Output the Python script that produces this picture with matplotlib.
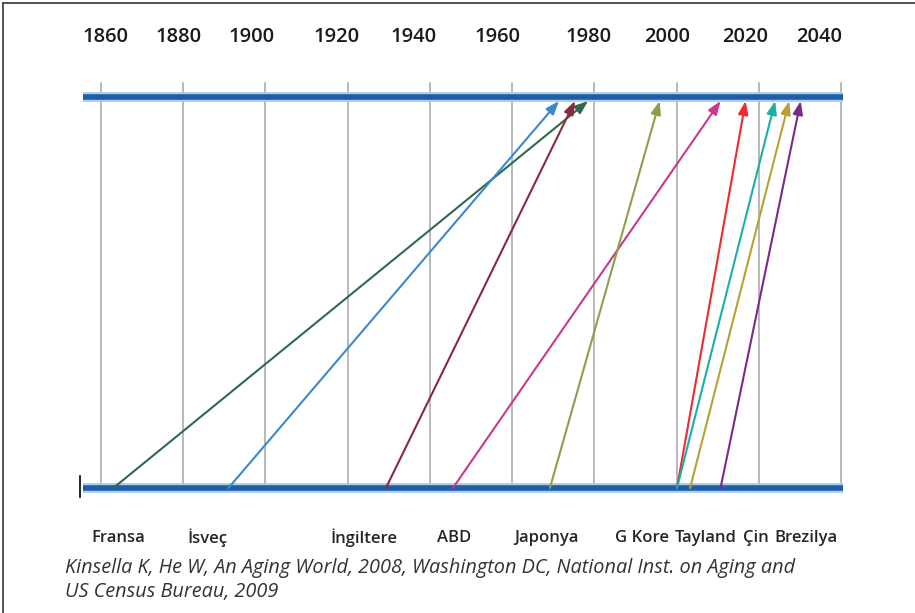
import numpy as np
import matplotlib
matplotlib.use("Agg")
import matplotlib.pyplot as plt
from matplotlib.patches import FancyArrowPatch
from matplotlib.lines import Line2D

# years when 7% -> 14% of population aged 65+
countries = ["Fransa", "İsveç", "İngiltere", "ABD", "Japonya",
             "G Kore", "Tayland", "Çin", "Brezilya"]
start_year = [1863, 1891, 1929.3, 1945.6, 1969.2, 2000.1, 2000.1, 2003.3, 2010.7]
end_year = [1978.5, 1971.4, 1975.3, 2010.7, 1995.9, 2016.8, 2024, 2027.4, 2030.2]
colors = ["#2f6a4c", "#3b88cf", "#8a2a3c", "#c9398b", "#8ca04a",
          "#ee2b2f", "#1bafa9", "#b9a032", "#7b2a8c"]

grid_years = np.arange(1860, 2041, 20)
year_labels = [str(y) for y in grid_years]
# label centres in year units (labels are not aligned to grid in original)
year_label_pos = [1861.1, 1878.9, 1896.6, 1917.2, 1936.1, 1956.5, 1978.6, 1997.7, 2016.8, 2034.6]
country_label_pos = [1864.2, 1886.0, 1923.9, 1945.8, 1968.4, 1991.7, 2007.0, 2019.2, 2031.4]

caption = ("Kinsella K, He W, An Aging World, 2008, Washington DC, National Inst. on Aging and\n"
           "US Census Bureau, 2009")

W, H = 915, 613
fig = plt.figure(figsize=(W / 100, H / 100), dpi=100)
x0, x1 = 101, 841
ybot, ytop = 488, 97
ax = fig.add_axes([x0 / W, (H - ybot) / H, (x1 - x0) / W, (ybot - ytop) / H])
ax.set_xlim(1860, 2040)
ax.set_ylim(0, 1)
ax.axis("off")

ppy = (x1 - x0) / 180.0  # pixels per year
py = 1.0 / (ybot - ytop)  # data per pixel vertically

# gridlines
for g in grid_years:
    ax.plot([g, g], [0, 1 + 14 * py], color="#a6a6a6", lw=1.1, clip_on=False, zorder=1)

# thick blue timelines
xa = 1860 - 18 / ppy
xb = 2040 + 2 / ppy
for yy in (0, 1):
    ax.plot([xa, xb], [yy, yy], color="#a9cbe8", lw=7, clip_on=False, zorder=2,
            solid_capstyle="butt")
    ax.plot([xa, xb], [yy, yy], color="#1f5ea6", lw=4, clip_on=False, zorder=3,
            solid_capstyle="butt")

# arrows
for s, e, c in zip(start_year, end_year, colors):
    arr = FancyArrowPatch((s, 0), (e, 1 - 4 * py), arrowstyle="-|>,head_length=8,head_width=3",
                          color=c, lw=1.5, shrinkA=0, shrinkB=0, zorder=4, clip_on=False,
                          mutation_scale=1)
    ax.add_patch(arr)

# year labels on top
for lab, p in zip(year_labels, year_label_pos):
    ax.text(p, 1 + 60 * py, lab, ha="center", va="center", fontsize=14.5,
            family="Open Sans", fontweight="semibold", color="#1a1a1a")

# country labels
for lab, p in zip(countries, country_label_pos):
    ax.text(p, -50 * py, lab, ha="center", va="center", fontsize=12,
            family="Open Sans", fontweight="semibold", color="#262626")

fig.text(65 / W, 1 - 580 / H, caption, ha="left", va="center", fontsize=14.3,
         family="Open Sans", style="italic", color="#333333", linespacing=1.22)

# small black cursor mark and page frame
fig.add_artist(Line2D([80 / W, 80 / W], [1 - 476 / H, 1 - 497 / H], color="black", lw=1.2))
fig.add_artist(Line2D([3 / W, 3 / W], [0, 1 - 3 / H], color="#444444", lw=1.3))
fig.add_artist(Line2D([3 / W, 1], [1 - 3 / H, 1 - 3 / H], color="#444444", lw=1.3))

fig.savefig("out.png", dpi=100)
